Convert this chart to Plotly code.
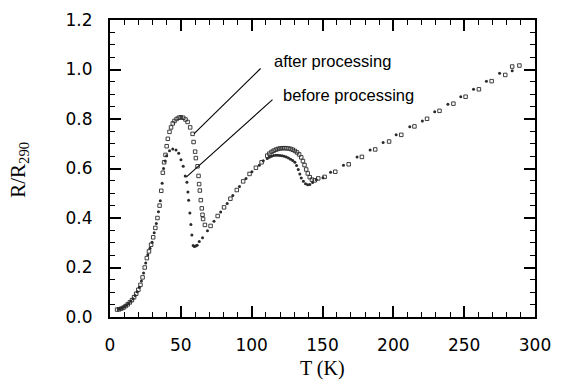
import plotly.graph_objects as go

# ---- data ----
after_T = [5.0, 6.5, 8.0, 9.5, 11.0, 12.5, 14.0, 15.5, 17.0, 18.5, 20.0, 21.5, 23.0, 24.5, 26.0,
           27.5, 29.0, 30.5, 32.0, 33.5, 35.0, 36.2, 37.3, 38.2, 39.2, 40.0, 40.8, 42.0, 43.1, 44.3,
           45.5, 47.0, 48.5, 50.0, 51.7, 53.3, 54.8, 56.6, 58.3, 59.0, 60.1, 60.6, 61.8, 62.5, 62.9,
           63.4, 64.1, 64.8, 65.3, 65.7, 67.0, 71.0, 76.0, 80.5, 85.0, 89.5, 94.0, 98.5, 103.0,
           107.0, 111.0, 112.5, 114.0, 115.5, 117.0, 118.5, 120.0, 121.5, 123.0, 124.5, 126.0,
           127.5, 129.0, 130.5, 132.0, 133.5, 135.0, 136.2, 137.3, 138.5, 139.6, 141.0, 142.5,
           144.5, 147.0, 151.5, 159.0, 168.5, 177.8, 187.2, 197.0, 205.6, 214.9, 223.8, 232.6,
           242.4, 251.0, 260.4, 269.4, 279.0, 283.9, 289.0]
after_R = [0.030, 0.031, 0.034, 0.038, 0.044, 0.051, 0.059, 0.068, 0.080, 0.094, 0.110, 0.130,
           0.160, 0.200, 0.238, 0.265, 0.292, 0.322, 0.360, 0.400, 0.450, 0.510, 0.583, 0.625,
           0.655, 0.690, 0.720, 0.748, 0.766, 0.782, 0.792, 0.800, 0.805, 0.807, 0.805, 0.798,
           0.788, 0.766, 0.740, 0.707, 0.668, 0.642, 0.609, 0.570, 0.537, 0.511, 0.472, 0.439,
           0.413, 0.396, 0.372, 0.368, 0.408, 0.443, 0.478, 0.513, 0.548, 0.578, 0.603, 0.625,
           0.652, 0.660, 0.667, 0.672, 0.676, 0.679, 0.681, 0.682, 0.682, 0.682, 0.681, 0.679,
           0.676, 0.671, 0.665, 0.657, 0.645, 0.630, 0.614, 0.596, 0.580, 0.565, 0.555, 0.552,
           0.560, 0.566, 0.587, 0.617, 0.647, 0.677, 0.709, 0.736, 0.770, 0.801, 0.833, 0.862,
           0.890, 0.920, 0.953, 0.978, 1.012, 1.016]

before_T = [5.8, 7.2, 8.7, 10.2, 11.7, 13.2, 14.7, 16.2, 17.7, 19.2, 20.7, 22.2, 23.7, 25.2, 26.7,
            28.2, 29.7, 31.2, 32.7, 34.2, 35.5, 36.8, 37.8, 38.9, 40.0, 42.0, 44.3, 46.6, 48.5,
            50.1, 51.7, 53.1, 54.3, 55.0, 55.5, 56.4, 57.1, 57.8, 58.7, 59.5, 60.5, 61.5, 63.0,
            65.3, 68.8, 73.4, 78.1, 82.7, 86.7, 91.4, 96.0, 100.2, 105.4, 108.2, 111.0, 112.5,
            114.0, 115.5, 117.0, 118.5, 120.0, 121.5, 123.0, 124.5, 126.0, 127.5, 129.0, 130.5,
            131.7, 132.9, 134.0, 135.0, 136.5, 138.0, 139.5, 141.0, 143.0, 145.7, 150.3, 155.7,
            164.8, 174.4, 183.6, 192.8, 202.0, 211.6, 220.5, 229.2, 238.5, 247.6, 256.6, 265.7,
            275.0, 283.9]
before_R = [0.033, 0.034, 0.037, 0.042, 0.048, 0.055, 0.064, 0.074, 0.087, 0.102, 0.120, 0.145,
            0.178, 0.218, 0.252, 0.278, 0.302, 0.340, 0.378, 0.425, 0.470, 0.540, 0.600, 0.630,
            0.652, 0.672, 0.679, 0.675, 0.662, 0.635, 0.609, 0.570, 0.544, 0.505, 0.472, 0.420,
            0.374, 0.331, 0.289, 0.285, 0.287, 0.290, 0.305, 0.320, 0.348, 0.387, 0.424, 0.459,
            0.491, 0.527, 0.560, 0.587, 0.613, 0.631, 0.640, 0.645, 0.650, 0.653, 0.654, 0.654,
            0.653, 0.652, 0.649, 0.646, 0.642, 0.637, 0.632, 0.625, 0.612, 0.596, 0.578, 0.562,
            0.548, 0.538, 0.534, 0.535, 0.543, 0.555, 0.563, 0.585, 0.613, 0.646, 0.675, 0.705,
            0.736, 0.769, 0.792, 0.829, 0.860, 0.890, 0.920, 0.953, 0.985, 0.995]

x_ticks = [0, 50, 100, 150, 200, 250, 300]
y_ticks = [0.0, 0.2, 0.4, 0.6, 0.8, 1.0, 1.2]
y_tick_text = ["0.0", "0.2", "0.4", "0.6", "0.8", "1.0", "1.2"]

labels = ["after processing", "before processing"]
# pointer lines (T, R) start/end and label anchors
pointer_after = [(59.4, 0.741), (106.3, 1.004)]
pointer_before = [(53.8, 0.565), (114.7, 0.878)]
label_pos = [(114.0, 1.033), (121.0, 0.899)]

fig = go.Figure()
fig.add_trace(go.Scatter(
    x=after_T, y=after_R, mode="markers", name=labels[0],
    marker=dict(symbol="square-open", size=3.5, color="#2a2a2a", line=dict(width=0.9, color="#2a2a2a")),
    showlegend=False))
fig.add_trace(go.Scatter(
    x=before_T, y=before_R, mode="markers", name=labels[1],
    marker=dict(symbol="circle", size=3, color="#2a2a2a"),
    showlegend=False))

for p in (pointer_after, pointer_before):
    fig.add_shape(type="line", xref="x", yref="y",
                  x0=p[0][0], y0=p[0][1], x1=p[1][0], y1=p[1][1],
                  line=dict(color="black", width=1.1))

for txt, (lx, ly) in zip(labels, label_pos):
    fig.add_annotation(x=lx, y=ly, xref="x", yref="y", text=txt, showarrow=False,
                       xanchor="left", yanchor="middle",
                       font=dict(family="Liberation Sans, Arial", size=16.5, color="black"))

fig.add_annotation(x=-0.2145, y=0.495, xref="paper", yref="paper", text="R/R<sub>290</sub>",
                   showarrow=False, textangle=-90, xanchor="center", yanchor="middle",
                   font=dict(family="Liberation Serif, Times New Roman", size=21, color="black"))
fig.add_annotation(x=0.501, y=-0.175, xref="paper", yref="paper", text="T (K)",
                   showarrow=False, xanchor="center", yanchor="middle",
                   font=dict(family="Liberation Serif, Times New Roman", size=20, color="black"))

tickfont = dict(family="DejaVu Sans, Arial", size=17, color="black")
fig.update_xaxes(range=[0, 300], tickvals=x_ticks, ticks="inside", ticklen=11, tickwidth=1.5,
                 tickcolor="black", showline=True, linecolor="black", linewidth=2,
                 mirror="ticks", showgrid=False, zeroline=False, tickfont=tickfont,
                 ticklabelstandoff=12,
                 minor=dict(ticks="inside", ticklen=5, dtick=10, tick0=0, tickcolor="black",
                            tickwidth=1.2, showgrid=False))
fig.update_yaxes(range=[0, 1.2], tickvals=y_ticks, ticktext=y_tick_text, ticks="inside",
                 ticklen=11, tickwidth=1.5, tickcolor="black", showline=True, linecolor="black",
                 linewidth=2, mirror="ticks", showgrid=False, zeroline=False, tickfont=tickfont,
                 ticklabelstandoff=12,
                 minor=dict(ticks="inside", ticklen=5, dtick=0.05, tick0=0, tickcolor="black",
                            tickwidth=1.2, showgrid=False))

fig.update_layout(width=561, height=385, margin=dict(l=110, r=22, t=10, b=68),
                  plot_bgcolor="white", paper_bgcolor="white")

fig.write_html("out.html")
